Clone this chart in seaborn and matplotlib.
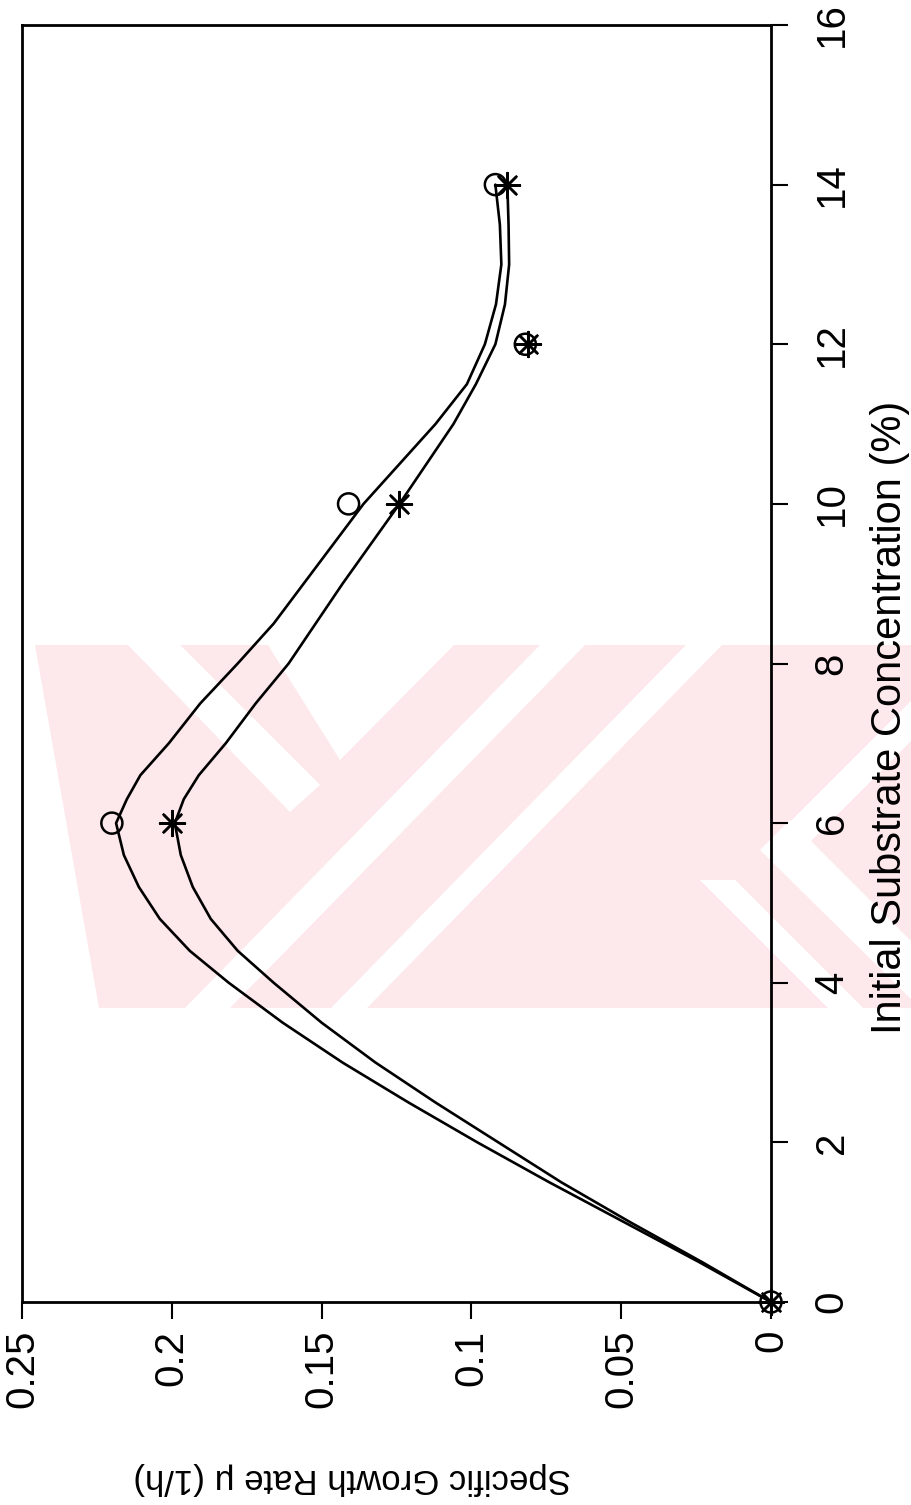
import matplotlib
matplotlib.use("Agg")
import matplotlib.pyplot as plt
from matplotlib.patches import Polygon
import seaborn as sns

# Measured specific growth rates (1/h) against initial substrate concentration (%)
conc = [0, 6, 10, 12, 14]
mu_open = [0.0, 0.220, 0.141, 0.082, 0.092]
mu_star = [0.0, 0.200, 0.124, 0.081, 0.088]

# Fitted curves through each data set
fit_conc_open = [0.0, 0.5, 1.0, 1.5, 2.0, 2.5, 3.0, 3.5, 4.0, 4.4, 4.8, 5.2,
                 5.6, 6.0, 6.3, 6.6, 7.0, 7.5, 8.0, 8.5, 9.0, 9.5, 10.0, 10.5,
                 11.0, 11.5, 12.0, 12.5, 13.0, 13.5, 14.0]
fit_mu_open = [0.000, 0.024, 0.049, 0.074, 0.098, 0.121, 0.143, 0.163, 0.181,
               0.194, 0.204, 0.211, 0.216, 0.2186, 0.215, 0.2105, 0.201, 0.1905,
               0.178, 0.166, 0.156, 0.146, 0.136, 0.124, 0.112, 0.1015, 0.0955,
               0.0918, 0.0900, 0.0905, 0.092]
fit_conc_star = [0.0, 0.5, 1.0, 1.5, 2.0, 2.5, 3.0, 3.5, 4.0, 4.4, 4.8, 5.2,
                 5.6, 6.0, 6.3, 6.6, 7.0, 7.5, 8.0, 8.5, 9.0, 9.5, 10.0, 10.5,
                 11.0, 11.5, 12.0, 12.5, 13.0, 13.5, 14.0]
fit_mu_star = [0.000, 0.023, 0.047, 0.070, 0.091, 0.112, 0.132, 0.150, 0.166,
               0.178, 0.187, 0.193, 0.197, 0.199, 0.196, 0.191, 0.182, 0.172,
               0.161, 0.152, 0.143, 0.1335, 0.124, 0.115, 0.106, 0.0985, 0.092,
               0.0888, 0.0874, 0.0876, 0.088]

rate_ticks = [0, 0.05, 0.1, 0.15, 0.2, 0.25]
rate_labels = ["0", "0.05", "0.1", "0.15", "0.2", "0.25"]
conc_ticks = [0, 2, 4, 6, 8, 10, 12, 14, 16]
conc_labels = ["0", "2", "4", "6", "8", "10", "12", "14", "16"]

sns.set_style("white")
plt.rcParams["font.family"] = ["Liberation Sans", "DejaVu Sans"]
plt.rcParams["text.color"] = "black"
plt.rcParams["axes.labelcolor"] = "black"
plt.rcParams["xtick.color"] = "black"
plt.rcParams["ytick.color"] = "black"

W, H = 912, 1505
fig = plt.figure(figsize=(W / 100, H / 100), dpi=100)
fig.patch.set_facecolor("white")


def px(points):
    """Pixel positions (from the top-left corner) to figure fractions."""
    return [(x / W, 1 - y / H) for x, y in points]


# Faint pink emblem in the background
pink = "#fde8ec"
fig.add_artist(Polygon(px([(35, 645), (912, 645), (912, 1008), (99, 1008)]),
                       closed=True, transform=fig.transFigure,
                       facecolor=pink, edgecolor="none", zorder=-2))
white_cuts = [
    [(128, 645), (180, 645), (320, 785), (290, 812)],
    [(268, 645), (454, 645), (340, 760)],
    [(540, 645), (585, 645), (230, 1008), (185, 1008)],
    [(686, 645), (722, 645), (367, 1008), (331, 1008)],
    [(912, 700), (912, 740), (800, 852), (780, 832)],
    [(760, 850), (790, 820), (912, 942), (912, 1000)],
    [(700, 880), (735, 880), (863, 1008), (828, 1008)],
]
for cut in white_cuts:
    fig.add_artist(Polygon(px(cut), closed=True, transform=fig.transFigure,
                           facecolor="white", edgecolor="none", zorder=-1))

ax = fig.add_axes([22 / W, 1 - 1302 / H, (771 - 22) / W, (1302 - 25) / H])
ax.set_facecolor("none")
ax.set_zorder(1)

# Curves
sns.lineplot(x=fit_mu_open, y=fit_conc_open, sort=False, estimator=None,
             color="black", linewidth=1.9, ax=ax)
sns.lineplot(x=fit_mu_star, y=fit_conc_star, sort=False, estimator=None,
             color="black", linewidth=1.9, ax=ax)
for line in ax.lines:
    line.set_solid_joinstyle("round")

# Data points: open circles and asterisks
sns.scatterplot(x=mu_open, y=conc, marker="o", s=230, color="black",
                linewidth=1.8, ax=ax, clip_on=False, zorder=5)
ax.collections[-1].set_facecolor("none")
ax.collections[-1].set_edgecolor("black")
sns.scatterplot(x=mu_star, y=conc, marker=(8, 2, 0), s=320, color="black",
                edgecolor="black", linewidth=1.8, ax=ax, clip_on=False, zorder=6)

ax.set_xlim(0.25, 0)
ax.set_ylim(0, 16)

for side in ["top", "bottom", "left", "right"]:
    ax.spines[side].set_visible(True)
    ax.spines[side].set_color("black")
    ax.spines[side].set_linewidth(2.0)

ax.set_xticks(rate_ticks, labels=rate_labels, rotation=90, ha="center", va="top")
ax.yaxis.tick_right()
ax.set_yticks(conc_ticks, labels=conc_labels, rotation=90, ha="left", va="center")
ax.tick_params(axis="x", bottom=True, top=False, direction="out", length=12,
               width=1.5, labelsize=29, pad=8, colors="black")
ax.tick_params(axis="y", left=False, right=True, labelleft=False, labelright=True,
               direction="out", length=12, width=1.5, labelsize=29, pad=18,
               colors="black")

ax.set_xlabel("Specific Growth Rate \u03bc (1/h)", fontsize=25, rotation=180,
              ha="center", va="center", color="black")
ax.xaxis.set_label_coords((352 - 22) / 749, (1302 - 1478) / 1277)
ax.yaxis.set_label_position("right")
ax.set_ylabel("Initial Substrate Concentration (%)", fontsize=30, rotation=90,
              ha="center", va="center", color="black")
ax.yaxis.set_label_coords((890 - 22) / 749, (1302 - 717) / 1277)

fig.savefig("out.png", dpi=100, facecolor="white")
